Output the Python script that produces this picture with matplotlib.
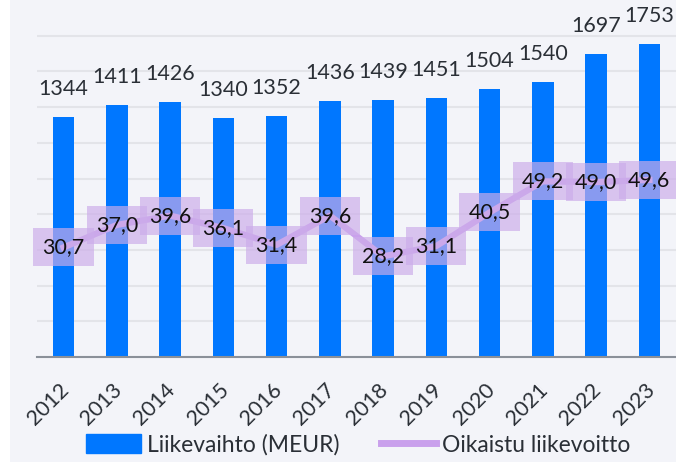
import matplotlib.pyplot as plt
import matplotlib.patches as mpatches
import matplotlib.transforms as mtransforms
from matplotlib.lines import Line2D
import numpy as np

years = ['2012', '2013', '2014', '2015', '2016', '2017', '2018', '2019', '2020', '2021', '2022', '2023']
liikevaihto = [1344, 1411, 1426, 1340, 1352, 1436, 1439, 1451, 1504, 1540, 1697, 1753]
liikevoitto = [30.7, 37.0, 39.6, 36.1, 31.4, 39.6, 28.2, 31.1, 40.5, 49.2, 49.0, 49.6]
grid_vals = [200, 400, 600, 800, 1000, 1200, 1400, 1600, 1800]

plt.rcParams['font.family'] = ['Lato', 'DejaVu Sans']

bar_color = '#0077ff'
line_color = '#c9a0ec'
box_color = '#ccacea'
bg = '#f3f4f9'
text_color = '#2a2f36'

fig = plt.figure(figsize=(6.76, 4.62), dpi=100)
fig.patch.set_facecolor('white')
fig.patches.append(mpatches.Rectangle((10 / 676, 0), 1, 1, transform=fig.transFigure,
                                      facecolor=bg, edgecolor='none', zorder=-10))

ax = fig.add_axes([37 / 676, 105 / 462, 1 - 37 / 676, 357 / 462])
ax.set_facecolor('none')
x = np.arange(len(years))

# gridlines drawn by hand
for g in grid_vals:
    ax.axhline(g, color='#e3e4e9', linewidth=1.5, zorder=0)

ax.bar(x, liikevaihto, width=0.4, color=bar_color, zorder=2)
ax.set_ylim(0, 2000)
ax.set_xlim(-0.5, len(years) - 0.5)
ax.set_yticks([])
for s in ['top', 'right', 'left']:
    ax.spines[s].set_visible(False)
ax.spines['bottom'].set_color('#8a9099')
ax.spines['bottom'].set_linewidth(1.5)
ax.spines['bottom'].set_zorder(4)

ax.set_xticks(x)
ax.set_xticklabels(years, rotation=45, ha='right', rotation_mode='anchor',
                   fontsize=15.5, color=text_color)
ax.tick_params(axis='x', length=0, pad=16)
shift = mtransforms.ScaledTranslation(-5 / 100, 0, fig.dpi_scale_trans)
for lab in ax.get_xticklabels():
    lab.set_transform(lab.get_transform() + shift)

for xi, v in zip(x, liikevaihto):
    ax.annotate(str(v), (xi, v), xytext=(0, 18), textcoords='offset pixels',
                ha='center', va='bottom', fontsize=15.5, color=text_color, zorder=5)

ax2 = ax.twinx()
ax2.set_ylim(0, 100)
ax2.axis('off')
ax2.plot(x, liikevoitto, color=line_color, linewidth=4.5, zorder=3)
for xi, v in zip(x, liikevoitto):
    ax2.text(xi, v, f'{v:.1f}'.replace('.', ','), ha='center', va='center',
             fontsize=15.5, color='#111111', zorder=6,
             bbox=dict(boxstyle='square,pad=0.42', facecolor=box_color,
                       edgecolor='none', alpha=0.67))

handles = [mpatches.Patch(color=bar_color, label='Liikevaihto (MEUR)'),
           Line2D([0], [0], color=line_color, linewidth=5, label='Oikaistu liikevoitto')]
fig.legend(handles=handles, loc='center', bbox_to_anchor=(0.53, 17 / 462), ncol=2,
           frameon=False, fontsize=16.5, handlelength=2.4, handleheight=0.9,
           handletextpad=0.25, columnspacing=1.8, labelcolor=text_color)

fig.savefig('out.png', dpi=100, facecolor=fig.get_facecolor())
